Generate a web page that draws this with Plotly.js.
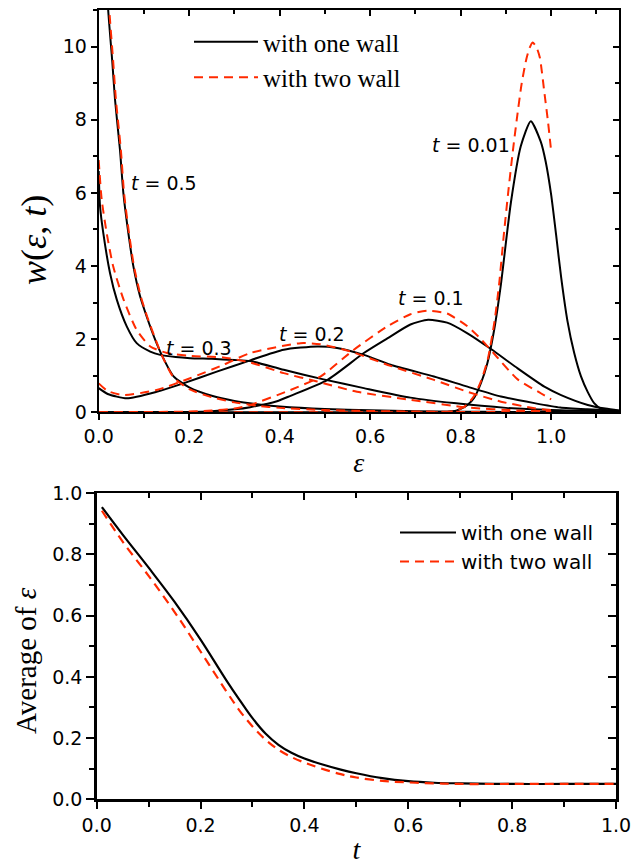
<!DOCTYPE html>
<html>
<head>
<meta charset="utf-8">
<script src="https://cdn.plot.ly/plotly-3.0.1.min.js"></script>
<style>html,body{margin:0;padding:0;background:#fff;}#chart{width:640px;height:865px;}</style>
</head>
<body>
<div id="chart"></div>
<script>
// ---- Top panel: w(eps, t) ----
const eps_t001_one = [0, 0.70, 0.77, 0.79, 0.80, 0.815, 0.83, 0.845, 0.859, 0.874, 0.889, 0.911, 0.933, 0.955, 0.977, 0.988, 1.0, 1.011, 1.022, 1.036, 1.051, 1.066, 1.081, 1.095, 1.11, 1.13, 1.15];
const w_t001_one   = [0, 0, 0.01, 0.04, 0.09, 0.2, 0.4, 0.8, 1.34, 2.25, 3.5, 5.73, 7.28, 7.96, 7.4, 6.85, 5.95, 4.85, 3.7, 2.5, 1.62, 0.98, 0.55, 0.25, 0.1, 0.03, 0.01];
const eps_t001_two = [0, 0.70, 0.77, 0.79, 0.80, 0.815, 0.83, 0.845, 0.86, 0.875, 0.885, 0.895, 0.905, 0.915, 0.925, 0.935, 0.945, 0.952, 0.959, 0.967, 0.975, 0.985, 0.993, 1.0];
const w_t001_two   = [0, 0, 0.01, 0.05, 0.1, 0.22, 0.45, 0.85, 1.45, 2.5, 3.5, 4.8, 6.0, 7.1, 8.1, 9.0, 9.65, 9.95, 10.11, 10.0, 9.7, 8.75, 7.95, 7.15];

const eps_t01_one = [0, 0.2, 0.25, 0.3, 0.335, 0.394, 0.424, 0.505, 0.586, 0.638, 0.689, 0.728, 0.77, 0.815, 0.867, 0.926, 0.985, 1.022, 1.081, 1.12, 1.15];
const w_t01_one   = [0, 0.01, 0.03, 0.08, 0.14, 0.3, 0.45, 0.88, 1.62, 2.02, 2.4, 2.53, 2.45, 2.16, 1.73, 1.2, 0.7, 0.47, 0.2, 0.1, 0.05];
const eps_t01_two = [0, 0.2, 0.25, 0.3, 0.335, 0.424, 0.49, 0.564, 0.638, 0.689, 0.726, 0.77, 0.815, 0.845, 0.874, 0.926, 0.977, 1.0];
const w_t01_two   = [0, 0.02, 0.05, 0.1, 0.2, 0.61, 0.975, 1.71, 2.35, 2.68, 2.78, 2.7, 2.35, 2.0, 1.6, 0.9, 0.52, 0.35];

const eps_t02_one = [0, 0.02, 0.062, 0.128, 0.187, 0.261, 0.335, 0.409, 0.483, 0.527, 0.586, 0.645, 0.741, 0.815, 0.889, 0.963, 1.02, 1.08, 1.15];
const w_t02_one   = [0.66, 0.5, 0.38, 0.56, 0.79, 1.11, 1.42, 1.71, 1.8, 1.76, 1.57, 1.3, 0.98, 0.7, 0.43, 0.25, 0.13, 0.08, 0.04];
const eps_t02_two = [0, 0.02, 0.055, 0.128, 0.202, 0.276, 0.335, 0.446, 0.49, 0.557, 0.645, 0.741, 0.815, 0.889, 0.963, 1.0];
const w_t02_two   = [0.79, 0.58, 0.47, 0.61, 0.93, 1.3, 1.62, 1.89, 1.86, 1.66, 1.27, 0.885, 0.56, 0.29, 0.11, 0.06];

const eps_t03_one = [0, 0.003, 0.0102, 0.025, 0.04, 0.062, 0.084, 0.114, 0.136, 0.17, 0.202, 0.25, 0.3, 0.335, 0.409, 0.497, 0.586, 0.689, 0.785, 0.9, 1.0, 1.15];
const w_t03_one   = [6.6, 5.63, 4.9, 3.81, 3.08, 2.35, 1.89, 1.66, 1.57, 1.51, 1.48, 1.46, 1.43, 1.4, 1.16, 0.9, 0.66, 0.4, 0.25, 0.12, 0.06, 0.02];
const eps_t03_two = [0, 0.0066, 0.0177, 0.032, 0.055, 0.084, 0.114, 0.151, 0.202, 0.276, 0.335, 0.409, 0.483, 0.571, 0.689, 0.815, 0.926, 1.0];
const w_t03_two   = [6.9, 5.82, 4.9, 3.99, 3.08, 2.25, 1.8, 1.62, 1.54, 1.5, 1.36, 1.07, 0.84, 0.56, 0.34, 0.13, 0.05, 0.03];

const eps_t05_one = [0.016, 0.021, 0.03, 0.036, 0.047, 0.0545, 0.0656, 0.0767, 0.0915, 0.106, 0.125, 0.14, 0.165, 0.2, 0.25, 0.3, 0.35, 0.4, 0.5, 0.6, 0.7, 0.8, 0.9, 1.0, 1.15];
const w_t05_one   = [12.5, 11.0, 9.6, 8.56, 7.18, 6.0, 4.9, 3.99, 3.17, 2.62, 1.98, 1.55, 0.99, 0.68, 0.45, 0.31, 0.22, 0.16, 0.09, 0.055, 0.03, 0.015, 0.008, 0.004, 0.0];
const eps_t05_two = [0.018, 0.0235, 0.032, 0.038, 0.049, 0.056, 0.067, 0.078, 0.093, 0.107, 0.126, 0.141, 0.165, 0.2, 0.25, 0.3, 0.35, 0.4, 0.5, 0.6, 0.7, 0.8, 0.9, 1.0];
const w_t05_two   = [12.5, 11.0, 9.6, 8.56, 7.18, 6.0, 4.9, 3.99, 3.17, 2.62, 1.98, 1.52, 0.96, 0.63, 0.41, 0.27, 0.18, 0.12, 0.06, 0.035, 0.02, 0.01, 0.005, 0.0];

const curveLabels = ["0.01", "0.1", "0.2", "0.3", "0.5"];
const labelEps = [0.822, 0.734, 0.471, 0.222, 0.1435];
const labelW   = [7.32, 3.13, 2.14, 1.76, 6.28];

// ---- Bottom panel: average of eps vs t ----
const t_one   = [0.01, 0.05, 0.1, 0.15, 0.2, 0.25, 0.275, 0.3, 0.325, 0.35, 0.375, 0.4, 0.43, 0.47, 0.5, 0.55, 0.6, 0.65, 0.7, 0.8, 0.9, 1.0];
const avg_one = [0.955, 0.865, 0.757, 0.645, 0.522, 0.388, 0.325, 0.265, 0.215, 0.178, 0.152, 0.133, 0.116, 0.097, 0.085, 0.069, 0.059, 0.054, 0.052, 0.05, 0.05, 0.05];
const t_two   = [0.01, 0.05, 0.1, 0.15, 0.2, 0.25, 0.275, 0.3, 0.325, 0.35, 0.375, 0.4, 0.43, 0.47, 0.5, 0.55, 0.6, 0.65, 0.7, 0.8, 0.9, 1.0];
const avg_two = [0.943, 0.842, 0.73, 0.612, 0.483, 0.352, 0.29, 0.238, 0.195, 0.162, 0.138, 0.12, 0.102, 0.082, 0.071, 0.06, 0.055, 0.052, 0.05, 0.05, 0.05, 0.05];

const legendOne = "with one wall";
const legendTwo = "with two wall";

const BLACK = "#000000";
const RED = "#ff2a00";

const oneSets = [[eps_t001_one, w_t001_one], [eps_t01_one, w_t01_one], [eps_t02_one, w_t02_one], [eps_t03_one, w_t03_one], [eps_t05_one, w_t05_one]];
const twoSets = [[eps_t001_two, w_t001_two], [eps_t01_two, w_t01_two], [eps_t02_two, w_t02_two], [eps_t03_two, w_t03_two], [eps_t05_two, w_t05_two]];

const traces = [];
oneSets.forEach((s, i) => traces.push({
  x: s[0], y: s[1], type: "scatter", mode: "lines", xaxis: "x", yaxis: "y",
  name: legendOne, legendgroup: "one", showlegend: i === 0, legend: "legend",
  line: {color: BLACK, width: 2, shape: "spline", smoothing: 0.6}
}));
twoSets.forEach((s, i) => traces.push({
  x: s[0], y: s[1], type: "scatter", mode: "lines", xaxis: "x", yaxis: "y",
  name: legendTwo, legendgroup: "two", showlegend: i === 0, legend: "legend",
  line: {color: RED, width: 2, dash: "9px,6px", shape: "spline", smoothing: 0.6}
}));
traces.push({x: t_one, y: avg_one, type: "scatter", mode: "lines", xaxis: "x2", yaxis: "y2",
  name: legendOne, legend: "legend2", line: {color: BLACK, width: 2.2, shape: "spline", smoothing: 1}});
traces.push({x: t_two, y: avg_two, type: "scatter", mode: "lines", xaxis: "x2", yaxis: "y2",
  name: legendTwo, legend: "legend2", line: {color: RED, width: 2.2, dash: "9px,6px", shape: "spline", smoothing: 1}});
// empty traces so the mirrored (top/right) frame axes get drawn
traces.push({x: [null], y: [null], type: "scatter", mode: "lines", xaxis: "x3", yaxis: "y3", showlegend: false, hoverinfo: "skip"});
traces.push({x: [null], y: [null], type: "scatter", mode: "lines", xaxis: "x4", yaxis: "y4", showlegend: false, hoverinfo: "skip"});

const sans = "DejaVu Sans, Verdana, sans-serif";
const tickFont = {family: sans, size: 19, color: "#000"};
const serif = "Liberation Serif, Times New Roman, serif";

function minorT(dir, len, dt) {
  return {ticks: dir, ticklen: len, tickwidth: 2, tickcolor: "#000", dtick: dt, showgrid: false};
}
function baseAxis(extra) {
  return Object.assign({
    showline: true, linecolor: "#000", linewidth: 2, ticks: "outside", tickcolor: "#000",
    tickwidth: 2, ticklen: 6, showgrid: false, zeroline: false, tickfont: tickFont
  }, extra);
}
function mirrorAxis(extra) {
  return Object.assign({
    showline: true, linecolor: "#000", linewidth: 2, ticks: "inside", tickcolor: "#000",
    tickwidth: 2, ticklen: 6, showgrid: false, zeroline: false, showticklabels: false
  }, extra);
}

const annotations = curveLabels.map((v, i) => ({
  x: labelEps[i], y: labelW[i], xref: "x", yref: "y", showarrow: false,
  text: "<i>t</i> = " + v,
  font: {family: sans, size: 19, color: "#000"}
}));
annotations.push({
  x: 34 / 640, y: 1 - 240 / 865, xref: "paper", yref: "paper", xanchor: "center", yanchor: "middle",
  showarrow: false, textangle: -90,
  text: "<i>w</i>(<i>ε</i>, <i>t</i>)", font: {family: serif, size: 36, color: "#000"}
});
annotations.push({
  x: 26 / 640, y: 1 - 661 / 865, xref: "paper", yref: "paper", xanchor: "center", yanchor: "middle",
  showarrow: false, textangle: -90,
  text: "Average of <i>ε</i>", font: {family: serif, size: 29, color: "#000"}
});

const layout = {
  width: 640, height: 865,
  margin: {l: 0, r: 0, t: 0, b: 0},
  paper_bgcolor: "#fff", plot_bgcolor: "#fff",
  showlegend: true,
  xaxis: baseAxis({domain: [0.1542, 0.9672], range: [0, 1.15], dtick: 0.2, tickformat: ".1f", anchor: "y",
    minor: minorT("outside", 4, 0.1),
    title: {text: "<i>ε</i>", font: {family: serif, size: 28, color: "#000"}, standoff: 0}}),
  yaxis: baseAxis({domain: [0.5234, 0.9884], range: [0, 11], dtick: 2, anchor: "x",
    minor: minorT("outside", 4, 1)}),
  xaxis3: mirrorAxis({domain: [0.1542, 0.9672], range: [0, 1.15], dtick: 0.2, anchor: "y3", overlaying: "x", side: "top",
    minor: minorT("inside", 4, 0.1)}),
  yaxis3: mirrorAxis({domain: [0.5234, 0.9884], range: [0, 11], dtick: 2, anchor: "x3", overlaying: "y", side: "right",
    minor: minorT("inside", 4, 1)}),
  xaxis2: baseAxis({domain: [0.1511, 0.9625], range: [0, 1], dtick: 0.2, tickformat: ".1f", anchor: "y2", linewidth: 2.5,
    minor: minorT("outside", 5, 0.1), ticklen: 7,
    title: {text: "<i>t</i>", font: {family: serif, size: 28, color: "#000"}, standoff: 8}}),
  yaxis2: baseAxis({domain: [0.076, 0.4297], range: [0, 1], dtick: 0.2, tickformat: ".1f", anchor: "x2", linewidth: 2.5,
    minor: minorT("outside", 5, 0.1), ticklen: 8}),
  xaxis4: mirrorAxis({domain: [0.1511, 0.9625], range: [0, 1], dtick: 0.2, anchor: "y4", overlaying: "x2", side: "top", linewidth: 2.5,
    minor: minorT("inside", 5, 0.1), ticklen: 7}),
  yaxis4: mirrorAxis({domain: [0.076, 0.4297], range: [0, 1], dtick: 0.2, anchor: "x4", overlaying: "y2", side: "right", linewidth: 2.5,
    minor: minorT("inside", 5, 0.1), ticklen: 8}),
  legend: {x: 189 / 640, y: 1 - 19 / 865, xanchor: "left", yanchor: "top", bgcolor: "rgba(0,0,0,0)",
    borderwidth: 0, itemwidth: 64, tracegroupgap: 0,
    font: {family: serif, size: 25, color: "#000"}},
  legend2: {x: 395 / 640, y: 1 - 513 / 865, xanchor: "left", yanchor: "top", bgcolor: "rgba(0,0,0,0)",
    borderwidth: 0, itemwidth: 56,
    font: {family: sans, size: 20, color: "#000"}},
  annotations: annotations
};

Plotly.newPlot("chart", traces, layout, {displayModeBar: false, staticPlot: true});
</script>
</body>
</html>
